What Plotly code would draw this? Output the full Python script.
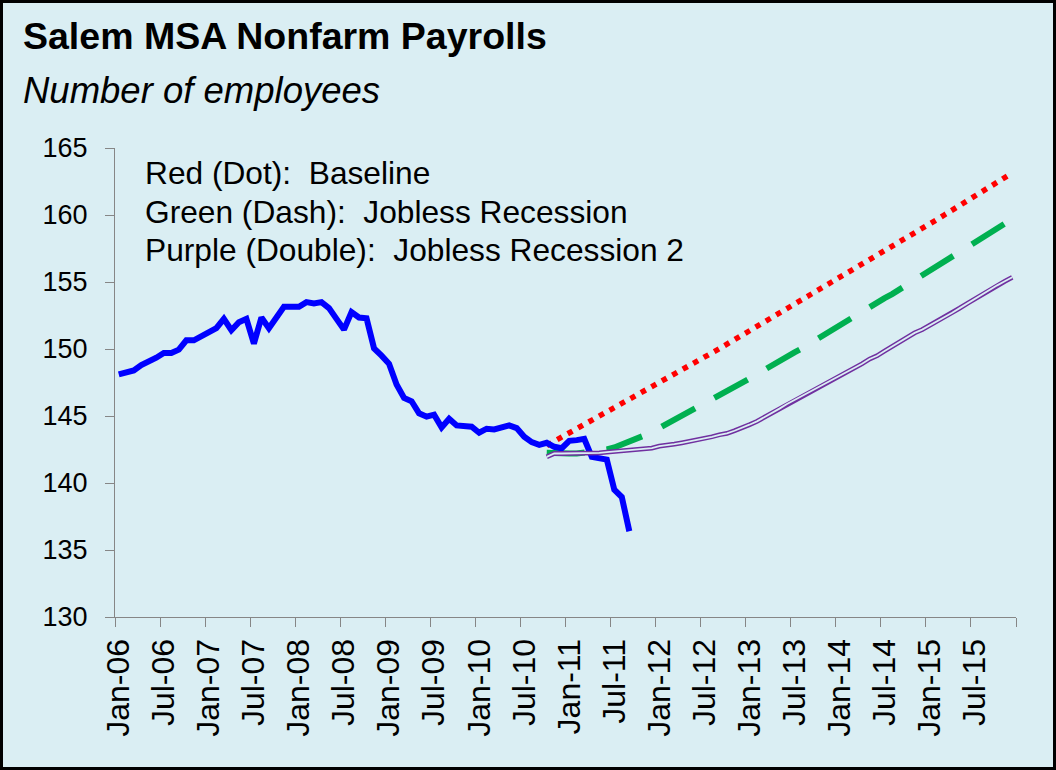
import plotly.graph_objects as go

# ---- categories (monthly, Jan-06 .. Dec-15) ----
month_names = ["Jan", "Feb", "Mar", "Apr", "May", "Jun",
               "Jul", "Aug", "Sep", "Oct", "Nov", "Dec"]
months = [f"{m}-{y:02d}" for y in range(6, 16) for m in month_names]
tick_labels = months[::6]
y_ticks = [130, 135, 140, 145, 150, 155, 160, 165]

# ---- series values (thousands of employees) ----
actual = [148.1, 148.25, 148.4, 148.8, 149.05, 149.35, 149.7, 149.7, 149.95, 150.65,
          150.65, 150.95, 151.3, 151.55, 152.25, 151.4, 152.0, 152.25, 150.4, 152.35,
          151.55, 152.45, 153.15, 153.15, 153.15, 153.5, 153.4, 153.5, 153.05, 152.25,
          151.45, 152.75, 152.35, 152.3, 150.05, 149.5, 148.9, 147.35, 146.35, 146.1,
          145.2, 144.95, 145.1, 144.15, 144.8, 144.3, 144.2, 144.2, 143.75, 144.05,
          144.0, 144.15, 144.3, 144.1, 143.45, 143.05, 142.85, 143.0, 142.7, 142.6,
          143.15, 143.2, 143.3, 141.95, 141.8, 141.75, 139.5, 138.95, 136.4]

forecast_start = "Oct-10"

baseline = [142.80, 143.11, 143.41, 143.72, 144.03, 144.34, 144.65, 144.96, 145.27, 145.58,
            145.90, 146.21, 146.53, 146.84, 147.16, 147.48, 147.79, 148.11, 148.43, 148.75,
            149.07, 149.39, 149.71, 150.03, 150.36, 150.68, 151.00, 151.33, 151.65, 151.98,
            152.31, 152.63, 152.96, 153.29, 153.62, 153.95, 154.28, 154.61, 154.94, 155.28,
            155.61, 155.95, 156.28, 156.62, 156.95, 157.29, 157.63, 157.97, 158.31, 158.65,
            158.99, 159.33, 159.67, 160.02, 160.36, 160.71, 161.05, 161.40, 161.75, 162.09,
            162.44, 162.79, 163.14]

jobless = [142.25, 142.2, 142.2, 142.2, 142.2, 142.25, 142.3, 142.4, 142.5, 142.65,
           142.85, 143.05, 143.3, 143.55, 143.8, 144.1, 144.4, 144.7, 145.0, 145.3,
           145.6, 145.9, 146.2, 146.6, 146.9, 147.2, 147.5, 147.8, 148.1, 148.45,
           148.8, 149.1, 149.4, 149.75, 150.05, 150.4, 150.7, 151.05, 151.4, 151.7,
           152.05, 152.45, 152.75, 153.1, 153.45, 153.8, 154.1, 154.45, 154.8, 155.1,
           155.45, 155.8, 156.15, 156.45, 156.8, 157.15, 157.5, 157.85, 158.2, 158.55,
           158.9, 159.3, 159.7]

jobless2 = [141.95, 142.2, 142.2, 142.2, 142.2, 142.2, 142.2, 142.25, 142.3, 142.35,
            142.4, 142.4, 142.45, 142.5, 142.6, 142.75, 142.8, 142.9, 143.0, 143.1,
            143.2, 143.3, 143.45, 143.6, 143.7, 143.9, 144.1, 144.35, 144.6, 144.9,
            145.2, 145.55, 145.9, 146.2, 146.5, 146.75, 147.05, 147.35, 147.7, 148.0,
            148.3, 148.6, 148.9, 149.25, 149.5, 149.85, 150.2, 150.55, 150.9, 151.2,
            151.45, 151.75, 152.05, 152.35, 152.7, 153.05, 153.4, 153.75, 154.1, 154.4,
            154.75, 155.05, 155.35]

legend_lines = ["Red (Dot):  Baseline",
                "Green (Dash):  Jobless Recession",
                "Purple (Double):  Jobless Recession 2"]

# ---- styling / layout constants ----
BG = "#DAEEF3"
FONT = "Liberation Sans, Arial, sans-serif"
W, H = 1056, 770
L, R, T, B = 115, 1016, 148, 617


def px(x):
    return (x - L) / (R - L)


def py(y):
    return (B - y) / (B - T)


i0 = months.index(forecast_start)
x_actual = list(range(len(actual)))
x_fc = list(range(i0, i0 + len(baseline)))

fig = go.Figure()
fig.add_trace(go.Scatter(x=x_fc, y=jobless, mode="lines",
                         line=dict(color="#00B050", width=6, dash="38px,22px")))
fig.add_trace(go.Scatter(x=x_fc, y=baseline, mode="lines",
                         line=dict(color="#FF0000", width=5.5, dash="5.5px,6.5px")))
fig.add_trace(go.Scatter(x=x_actual, y=actual, mode="lines",
                         line=dict(color="#0000FF", width=6)))
fig.add_trace(go.Scatter(x=x_fc, y=jobless2, mode="lines",
                         line=dict(color="#7030A0", width=4.8)))
fig.add_trace(go.Scatter(x=x_fc, y=jobless2, mode="lines",
                         line=dict(color=BG, width=1.8)))

annotations = [
    dict(x=px(21), y=py(36), xref="paper", yref="paper", xanchor="left", yanchor="middle",
         text="<b>Salem MSA Nonfarm Payrolls</b>", showarrow=False,
         font=dict(family=FONT, size=37.5, color="black")),
    dict(x=px(21), y=py(90), xref="paper", yref="paper", xanchor="left", yanchor="middle",
         text="<i>Number of employees</i>", showarrow=False,
         font=dict(family=FONT, size=36.5, color="black")),
]
for txt, yy in zip(legend_lines, [173, 212, 250]):
    annotations.append(dict(x=px(143), y=py(yy), xref="paper", yref="paper",
                            xanchor="left", yanchor="middle", text=txt, showarrow=False,
                            font=dict(family=FONT, size=31.7, color="black")))

fig.update_layout(
    width=W, height=H,
    margin=dict(l=L, r=W - R, t=T, b=H - B),
    paper_bgcolor=BG, plot_bgcolor=BG,
    showlegend=False,
    annotations=annotations,
    shapes=[dict(type="rect", xref="paper", yref="paper",
                 x0=px(1.5), x1=px(W - 1.5), y0=py(H - 1.5), y1=py(1.5),
                 line=dict(color="black", width=3), fillcolor="rgba(0,0,0,0)", layer="above")],
)
fig.update_xaxes(
    range=[-0.5, len(months) - 0.5],
    tickmode="array", tickvals=list(range(0, len(months), 6)), ticktext=tick_labels,
    tickangle=-90, ticks="", showgrid=False, zeroline=False,
    showline=True, linecolor="#868686", linewidth=1.3,
    ticklabelstandoff=8,
    tickfont=dict(family=FONT, size=32, color="black"),
    minor=dict(tickmode="array", tickvals=[v - 0.5 for v in range(0, len(months) + 1, 6)],
               ticks="outside", ticklen=9, tickcolor="#868686", tickwidth=1.3, showgrid=False),
)
fig.update_yaxes(
    range=[130, 165], tickmode="array", tickvals=y_ticks,
    ticks="outside", ticklen=9, tickcolor="#868686", tickwidth=1.3,
    showgrid=False, zeroline=False,
    showline=True, linecolor="#868686", linewidth=1.3,
    ticklabelstandoff=12,
    tickfont=dict(family=FONT, size=27, color="black"),
)

fig.write_html("out.html", config={"displayModeBar": False},
               post_script="document.body.style.margin='0px';document.body.style.padding='0px';")
